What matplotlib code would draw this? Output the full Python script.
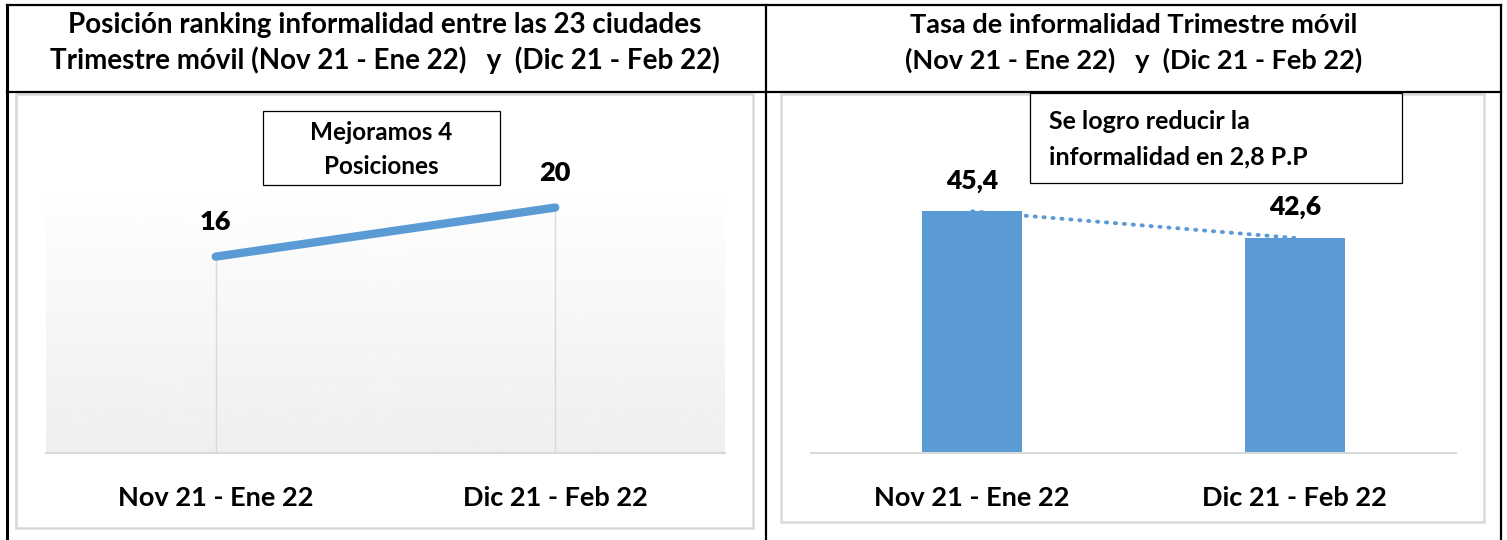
import numpy as np
import matplotlib.pyplot as plt
from matplotlib.patches import Rectangle

plt.rcParams['font.family'] = ['Lato', 'DejaVu Sans']
plt.rcParams['font.weight'] = 'bold'

# data
categories = ['Nov 21 - Ene 22', 'Dic 21 - Feb 22']
ranking = [16, 20]
tasa = [45.4, 42.6]
ranking_labels = ['16', '20']
tasa_labels = ['45,4', '42,6']

W, H = 1507, 540
BLUE = '#5B9BD5'
GRID = '#D9D9D9'

fig = plt.figure(figsize=(W / 100, H / 100), dpi=100)


def box(x0, y0, x1, y1):
    # pixel box -> figure fraction [left, bottom, width, height]
    return [x0 / W, 1 - y1 / H, (x1 - x0) / W, (y1 - y0) / H]


def fx(x):
    return x / W


def fy(y):
    return 1 - y / H


# table borders
lines = [
    ([7, 7], [5, 540], 2.2),
    ([7, 1501], [5, 5], 1.6),
    ([7, 1501], [92, 92], 1.6),
    ([766, 766], [5, 540], 1.6),
    ([1501, 1501], [5, 540], 1.6),
]
for xs, ys, lw in lines:
    fig.add_artist(plt.Line2D([fx(x) for x in xs], [fy(y) for y in ys],
                              color='black', lw=lw))

# light gray chart frames
fig.add_artist(Rectangle((fx(16), fy(528)), (753 - 16) / W, (528 - 94) / H,
                         fill=False, ec=GRID, lw=1.8))
fig.add_artist(Rectangle((fx(781), fy(522)), (1484 - 781) / W, (522 - 94) / H,
                         fill=False, ec=GRID, lw=1.8))

# titles
tkw = dict(ha='center', va='center', fontweight='bold')
fig.text(fx(385), fy(25), 'Posición ranking informalidad entre las 23 ciudades', fontsize=20, **tkw)
fig.text(fx(385), fy(60), 'Trimestre móvil (Nov 21 - Ene 22)   y  (Dic 21 - Feb 22)', fontsize=20, **tkw)
fig.text(fx(1134), fy(25), 'Tasa de informalidad Trimestre móvil', fontsize=19.5, **tkw)
fig.text(fx(1134), fy(60), '(Nov 21 - Ene 22)   y  (Dic 21 - Feb 22)', fontsize=19.5, **tkw)

x = np.arange(len(categories))

# ---- left chart: ranking line
ax1 = fig.add_axes(box(46, 183, 725, 453))
grad = np.linspace(1.0, 0.935, 100).reshape(-1, 1)
ax1.imshow(grad, cmap='gray', vmin=0, vmax=1, aspect='auto',
           extent=(-0.5, 1.5, 0, 22), zorder=0)
ax1.set_xlim(-0.5, 1.5)
ax1.set_ylim(0, 22)
ax1.vlines(x, 0, ranking, color=GRID, lw=1, zorder=1)
ax1.plot(x, ranking, color=BLUE, lw=6, solid_capstyle='round', zorder=3)
for xi, v, lab in zip(x, ranking, ranking_labels):
    ax1.annotate(lab, (xi, v), xytext=(0, 25), textcoords='offset points',
                 ha='center', va='center', fontsize=19.5, fontweight='heavy',
                 annotation_clip=False)
for s in ['top', 'left', 'right']:
    ax1.spines[s].set_visible(False)
ax1.spines['bottom'].set_color(GRID)
ax1.spines['bottom'].set_linewidth(1.5)
ax1.set_yticks([])
ax1.set_xticks(x)
ax1.set_xticklabels(categories, fontsize=19.5, fontweight='bold')
ax1.tick_params(axis='x', length=0, pad=24)

fig.add_artist(Rectangle((fx(263), fy(185)), (500 - 263) / W, (185 - 111) / H,
                         fill=True, fc='white', ec='black', lw=0.9))
bkw = dict(ha='center', va='center', fontsize=17.5, fontweight='bold')
fig.text(fx(381), fy(133), 'Mejoramos 4', **bkw)
fig.text(fx(381), fy(167), 'Posiciones', **bkw)

# ---- right chart: bars
ax2 = fig.add_axes(box(811, 120, 1456, 453))
ax2.set_xlim(-0.5, 1.5)
ax2.set_ylim(20, 55)
ax2.bar(x, tasa, width=0.31, bottom=0, color=BLUE, zorder=2)
ax2.plot(x, tasa, color=BLUE, lw=2.8, linestyle=(0, (0.3, 2.0)),
         dash_capstyle='round', zorder=3)
for xi, v, lab in zip(x, tasa, tasa_labels):
    ax2.annotate(lab, (xi, v), xytext=(0, 22), textcoords='offset points',
                 ha='center', va='center', fontsize=19, fontweight='heavy',
                 annotation_clip=False)
for s in ['top', 'left', 'right']:
    ax2.spines[s].set_visible(False)
ax2.spines['bottom'].set_color(GRID)
ax2.spines['bottom'].set_linewidth(1.5)
ax2.set_yticks([])
ax2.set_xticks(x)
ax2.set_xticklabels(categories, fontsize=19.5, fontweight='bold')
ax2.tick_params(axis='x', length=0, pad=24)

fig.add_artist(Rectangle((fx(1030), fy(183)), (1402 - 1030) / W, (183 - 93) / H,
                         fill=True, fc='white', ec='black', lw=0.9))
skw = dict(ha='left', va='center', fontsize=18, fontweight='bold')
fig.text(fx(1049), fy(122), 'Se logro reducir la', **skw)
fig.text(fx(1049), fy(157), 'informalidad en 2,8 P.P', **skw)

fig.savefig('out.png', dpi=100)
